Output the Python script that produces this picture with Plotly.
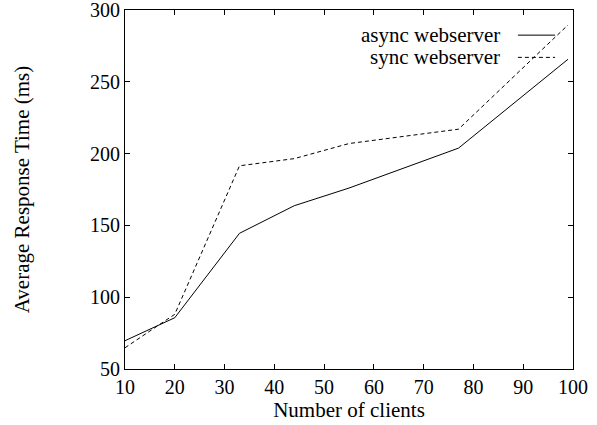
import plotly.graph_objects as go

clients = [10, 20, 33, 44, 55, 77, 99]
async_ms = [69.7, 85.7, 144.5, 163.7, 176.0, 203.8, 265.7]
sync_ms = [64.8, 88.1, 191.5, 196.5, 207.0, 217.0, 289.6]
x_ticks = [10, 20, 30, 40, 50, 60, 70, 80, 90, 100]
y_ticks = [50, 100, 150, 200, 250, 300]
series_names = ["async webserver", "sync webserver"]

FONT = "Liberation Serif"
FS_TICK = 20
FS_TEXT = 21

fig = go.Figure()
fig.add_trace(go.Scatter(x=clients, y=async_ms, mode="lines", name=series_names[0],
                         line=dict(color="black", width=1), showlegend=False))
fig.add_trace(go.Scatter(x=clients, y=sync_ms, mode="lines", name=series_names[1],
                         line=dict(color="black", width=1, dash="4px,3px"), showlegend=False))

# legend drawn gnuplot-style: text on the left, sample on the right
legend_y = [0.93, 0.868]
dashes = ["solid", "4px,3px"]
for name, yy, d in zip(series_names, legend_y, dashes):
    fig.add_annotation(x=0.842, y=yy, xref="paper", yref="paper", text=name,
                       showarrow=False, xanchor="right", yanchor="middle",
                       font=dict(family=FONT, size=FS_TEXT, color="black"))
    fig.add_shape(type="line", xref="paper", yref="paper",
                  x0=0.877, x1=0.96, y0=yy, y1=yy,
                  line=dict(color="black", width=1, dash=d))

axis_common = dict(showgrid=False, zeroline=False, showline=True, linecolor="black",
                   linewidth=1, mirror="ticks", ticks="inside", ticklen=5,
                   tickcolor="black", tickwidth=1, ticklabeloverflow="allow",
                   automargin=False,
                   tickfont=dict(family=FONT, size=FS_TICK, color="black"))

fig.update_xaxes(range=[10, 100], tickvals=x_ticks, ticktext=[str(v) for v in x_ticks],
                 title=dict(text="Number of clients",
                            font=dict(family=FONT, size=FS_TEXT, color="black"),
                            standoff=4),
                 **axis_common)
fig.update_yaxes(range=[50, 300], tickvals=y_ticks, ticktext=[str(v) for v in y_ticks],
                 title=dict(text="Average Response Time (ms)",
                            font=dict(family=FONT, size=FS_TEXT, color="black"), standoff=54),
                 **axis_common)

fig.update_layout(width=597, height=425, margin=dict(l=125, r=24, t=10, b=56),
                  paper_bgcolor="white", plot_bgcolor="white")

fig.write_html("out.html")
